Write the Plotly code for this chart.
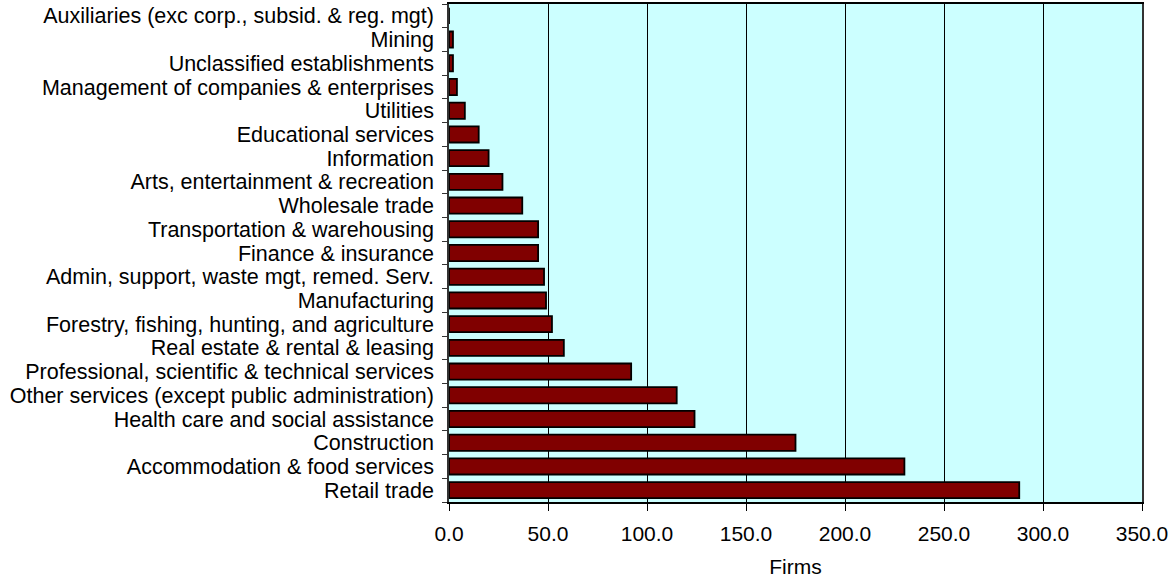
import plotly.graph_objects as go

industries = [
    "Retail trade",
    "Accommodation & food services",
    "Construction",
    "Health care and social assistance",
    "Other services (except public administration)",
    "Professional, scientific & technical services",
    "Real estate & rental & leasing",
    "Forestry, fishing, hunting, and agriculture",
    "Manufacturing",
    "Admin, support, waste mgt, remed. Serv.",
    "Finance & insurance",
    "Transportation & warehousing",
    "Wholesale trade",
    "Arts, entertainment & recreation",
    "Information",
    "Educational services",
    "Utilities",
    "Management of companies & enterprises",
    "Unclassified establishments",
    "Mining",
    "Auxiliaries (exc corp., subsid. & reg. mgt)",
]
firms = [288, 230, 175, 124, 115, 92, 58, 52, 49, 48, 45, 45, 37, 27, 20, 15, 8, 4, 2, 2, 0]
x_ticks = [0, 50, 100, 150, 200, 250, 300, 350]

fig = go.Figure(
    go.Bar(
        x=firms,
        y=industries,
        orientation="h",
        marker=dict(color="#800000", line=dict(color="black", width=1.8)),
        width=0.68,
    )
)

fig.update_layout(
    width=1173,
    height=579,
    margin=dict(l=449, r=31, t=4, b=77, autoexpand=False),
    paper_bgcolor="white",
    plot_bgcolor="#CCFFFF",
    font=dict(family="Liberation Sans, Arial, sans-serif", size=21, color="black"),
    showlegend=False,
)

fig.update_xaxes(
    range=[0, 350],
    tickvals=x_ticks,
    ticktext=[f"{v:.1f}" for v in x_ticks],
    showgrid=True,
    gridcolor="black",
    gridwidth=1,
    ticks="outside",
    ticklen=7,
    tickcolor="black",
    showline=True,
    linecolor="black",
    linewidth=1.5,
    mirror=True,
    zeroline=False,
    title=dict(text="Firms", standoff=15, font=dict(size=21)),
    tickfont=dict(size=21),
    ticklabelstandoff=5,
)

fig.update_yaxes(
    categoryorder="array",
    categoryarray=industries,
    tickmode="array",
    tickvals=industries,
    ticktext=industries,
    range=[-0.5, len(industries) - 0.5],
    ticks="outside",
    tickson="boundaries",
    ticklen=5,
    tickcolor="#333333",
    showline=True,
    linecolor="#333333",
    linewidth=1.5,
    mirror=True,
    showgrid=False,
    tickfont=dict(size=21.5),
    ticklabelstandoff=9,
)

fig.write_html(
    "out.html",
    config={"displayModeBar": False},
    post_script="document.body.style.margin='0';",
)
